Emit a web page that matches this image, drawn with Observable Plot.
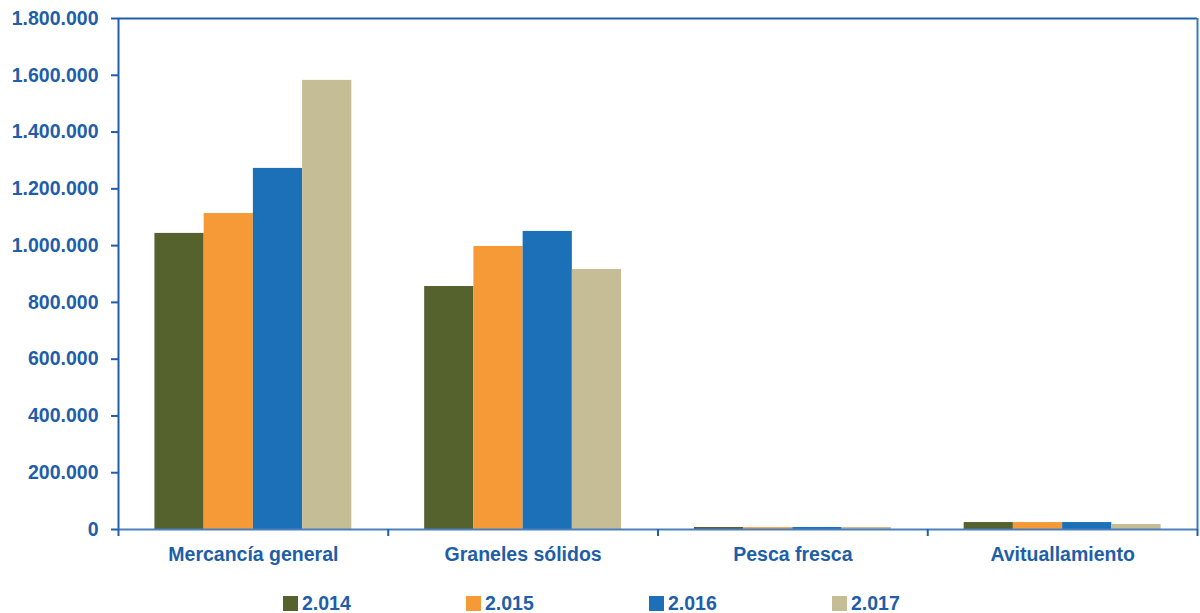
<!DOCTYPE html>
<html>
<head>
<meta charset="utf-8">
<script src="https://cdn.jsdelivr.net/npm/d3@7"></script>
<script src="https://cdn.jsdelivr.net/npm/@observablehq/plot@0.6"></script>
<style>
  html, body { margin: 0; padding: 0; background: #fff; }
  #wrap { width: 1200px; font-family: "Liberation Sans", Arial, sans-serif; }
  #legend { position: relative; height: 33px; font-weight: bold; font-size: 19.5px; color: #1f5ea8; }
  .item { position: absolute; top: 12px; display: flex; align-items: center; }
  .sw { width: 15px; height: 15px; margin-right: 4px; }
</style>
</head>
<body>
<div id="wrap">
  <div id="chart"></div>
  <div id="legend"></div>
</div>
<script>
const categories = ["Mercancía general", "Graneles sólidos", "Pesca fresca", "Avituallamiento"];
const years = ["2.014", "2.015", "2.016", "2.017"];
const v2014 = [1043000, 856000, 7000, 24500];
const v2015 = [1113000, 997000, 6500, 24500];
const v2016 = [1272000, 1050000, 7000, 24500];
const v2017 = [1582000, 916000, 7500, 17500];
const yTicks = [0, 200000, 400000, 600000, 800000, 1000000, 1200000, 1400000, 1600000, 1800000];

const series = [v2014, v2015, v2016, v2017];
const colors = ["#55622d", "#f59a37", "#1c70b8", "#c4bd95"];
const textColor = "#1f5ea8";

// layout within each category band (fractions of the band)
const groupPad = 0.135;
const barW = (1 - 2 * groupPad) / years.length;

const rows = [];
categories.forEach((c, i) => {
  years.forEach((y, j) => {
    const x1 = i + groupPad + j * barW;
    rows.push({cat: c, year: y, value: series[j][i], x1, x2: x1 + barW});
  });
});

const locale = d3.formatLocale({decimal: ",", thousands: ".", grouping: [3], currency: ["", "€"]});
const fmt = locale.format(",.0f");

const chart = Plot.plot({
  width: 1200,
  height: 580,
  marginLeft: 118,
  marginRight: 3,
  marginTop: 18,
  marginBottom: 51,
  style: {fontFamily: "'Liberation Sans', Arial, sans-serif", fontSize: "19.5px", fontWeight: "bold", color: textColor, background: "#fff"},
  x: {type: "linear", domain: [0, categories.length]},
  y: {domain: [0, 1800000]},
  color: {domain: years, range: colors},
  marks: [
    Plot.rectY(rows, {x1: "x1", x2: "x2", y: "value", fill: "year"}),
    Plot.ruleY([1800000], {stroke: "#1f5ea8", strokeWidth: 2}),
    Plot.ruleX([0], {stroke: "#1f5ea8", strokeWidth: 2}),
    Plot.ruleX([categories.length], {stroke: "#3f78c0", strokeWidth: 2}),
    Plot.ruleY([0], {stroke: "#4a80c0", strokeWidth: 2}),
    Plot.axisY({ticks: yTicks, tickSize: 7, tickPadding: 13, tickFormat: fmt, color: textColor, strokeWidth: 2, label: null}),
    Plot.axisX({ticks: d3.range(0, categories.length + 1), tickSize: 7, tickFormat: () => "", color: textColor, strokeWidth: 2, label: null}),
    Plot.axisX({ticks: categories.map((c, i) => i + 0.5), tickSize: 0, tickPadding: 18, tickFormat: d => categories[Math.floor(d)], color: textColor, label: null})
  ]
});
document.getElementById("chart").appendChild(chart);

const legend = document.getElementById("legend");
years.forEach((y, j) => {
  const it = document.createElement("div");
  it.className = "item";
  it.style.left = (283 + j * 183) + "px";
  it.innerHTML = `<span class="sw" style="background:${colors[j]}"></span><span>${y}</span>`;
  legend.appendChild(it);
});
</script>
</body>
</html>
